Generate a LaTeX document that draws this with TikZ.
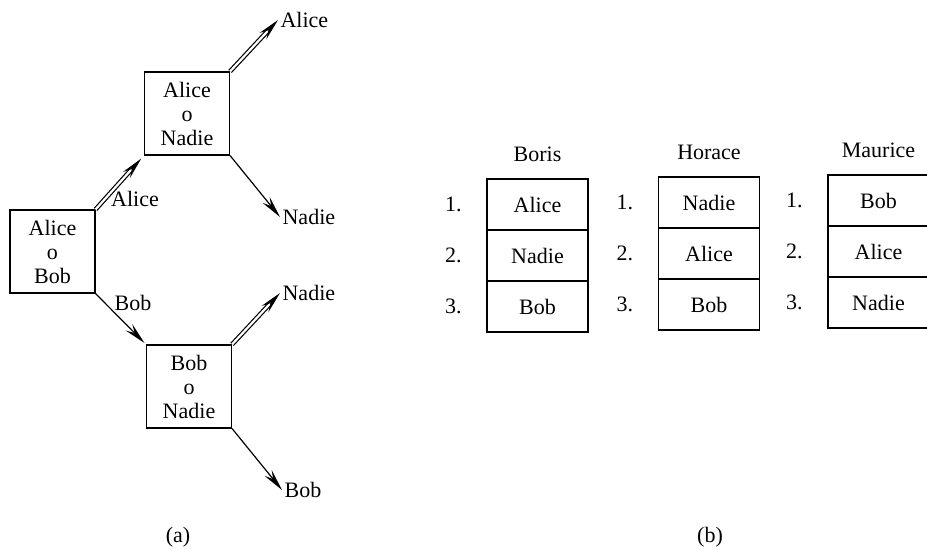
\documentclass[tikz,border=0pt]{standalone}
\usepackage{fontspec}
\setmainfont{Liberation Serif}
\usetikzlibrary{positioning,arrows.meta}

\begin{document}
\begin{tikzpicture}[x=0.5pt,y=-0.5pt,
    font=\fontsize{11}{12}\selectfont, line width=0.6pt,
    game/.style={draw, minimum width=42.5pt, minimum height=41.5pt, align=center, inner sep=0pt},
    win/.style={double, double distance=1.1pt, -{Stealth[length=11pt,width=4.6pt,inset=4pt,fill=black]}},
    lose/.style={-{Stealth[length=11pt,width=4.6pt,inset=4pt]}},
    cell/.style={draw, minimum width=50.5pt, minimum height=25.5pt, inner sep=0pt, outer sep=0pt}]
  \useasboundingbox (0,0) rectangle (927,550);

  % (a) the three matches
  \node[game] (ab) at (52.5,251.5) {Alice\\o\\Bob};
  \node[game] (an) at (187,113.5) {Alice\\o\\Nadie};
  \node[game] (bn) at (189,386.5) {Bob\\o\\Nadie};
  \node (abw) at (135,199) {Alice};
  \node (abl) at (133,303) {Bob};
  \node[anchor=west, inner sep=1pt] (anw) at (278,20) {Alice};
  \node[anchor=west, inner sep=1pt] (anl) at (280,217) {Nadie};
  \node[anchor=west, inner sep=1pt] (bnw) at (280,293) {Nadie};
  \node[anchor=west, inner sep=1pt] (bnl) at (282,490) {Bob};
  \draw[win, shorten >=2pt] (ab.north east) -- (an.south west);
  \draw[lose, shorten >=1pt] (ab.south east) -- (bn.north west);
  \draw[win] (an.north east) -- (anw.west);
  \draw[lose] (an.south east) -- (anl.west);
  \draw[win] (bn.north east) -- (bnw.west);
  \draw[lose] (bn.south east) -- (bnl.west);
  \node (capa) at (178,537) {(a)};

  % (b) preference lists
  \foreach \name/\cx/\top/\one/\two/\three in
      {Boris/537.5/179/Alice/Nadie/Bob, Horace/709/177/Nadie/Alice/Bob,
       Maurice/878.5/175/Bob/Alice/Nadie} {
    \node[cell, anchor=north] (\name-1) at (\cx,\top) {\one};
    \node[cell, below=0pt of \name-1] (\name-2) {\two};
    \node[cell, below=0pt of \name-2] (\name-3) {\three};
    \node[above=5pt of \name-1] (\name-h) {\name};
    \foreach \i in {1,2,3}
      \node[left=9pt of \name-\i] (\name-n\i) {\i.};
  }
  \node (capb) at (710,537) {(b)};
\end{tikzpicture}
\end{document}
